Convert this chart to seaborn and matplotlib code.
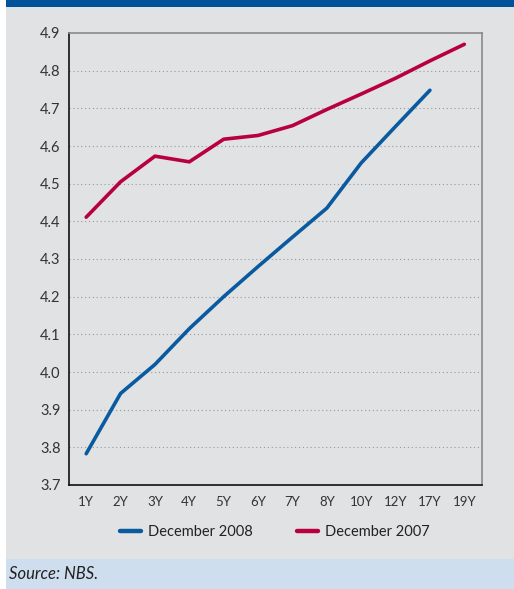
import pandas as pd
import numpy as np
import matplotlib.pyplot as plt
import seaborn as sns
from matplotlib.patches import Rectangle
from matplotlib.ticker import FixedLocator, NullFormatter

# Data (yield curves, %)
tenors = ["1Y", "2Y", "3Y", "4Y", "5Y", "6Y", "7Y", "8Y", "10Y", "12Y", "17Y", "19Y"]
dec_2008 = [3.783, 3.943, 4.020, 4.115, 4.200, 4.280, 4.358, 4.435, 4.555, 4.652, 4.748, np.nan]
dec_2007 = [4.411, 4.505, 4.573, 4.558, 4.618, 4.628, 4.654, 4.697, 4.738, 4.780, 4.826, 4.870]
series_names = ["December 2008", "December 2007"]
colors = ["#0a5aa0", "#b8003f"]
yticks = [3.7, 3.8, 3.9, 4.0, 4.1, 4.2, 4.3, 4.4, 4.5, 4.6, 4.7, 4.8, 4.9]

df = pd.concat([
    pd.DataFrame({"tenor": tenors, "yield": dec_2008, "series": series_names[0]}),
    pd.DataFrame({"tenor": tenors, "yield": dec_2007, "series": series_names[1]}),
]).dropna()

sns.set_style("white")
plt.rcParams["font.family"] = ["Lato", "DejaVu Sans"]

W, H = 514, 589
fig = plt.figure(figsize=(W / 100, H / 100), dpi=100)
fig.patch.set_facecolor("white")

# panel backgrounds
fig.patches.append(Rectangle((6 / W, 0), 1, 1, transform=fig.transFigure,
                             facecolor="#e1e2e4", edgecolor="none", zorder=-3))
fig.patches.append(Rectangle((6 / W, 1 - 7 / H), 1, 7 / H, transform=fig.transFigure,
                             facecolor="#00529b", edgecolor="none", zorder=-2))
fig.patches.append(Rectangle((6 / W, 0), 1, 30 / H, transform=fig.transFigure,
                             facecolor="#cfdeee", edgecolor="none", zorder=-2))

ax = fig.add_axes([69 / W, 104 / H, 412.5 / W, 452 / H])
ax.set_facecolor("none")

sns.lineplot(data=df, x="tenor", y="yield", hue="series", palette=colors,
             hue_order=series_names, linewidth=2.6, ax=ax, legend=False, sort=False)

ax.set_xlim(-0.5, len(tenors) - 0.5)
ax.set_ylim(3.7, 4.9)
ax.set_yticks(yticks)
ax.set_yticklabels([f"{v:.1f}" for v in yticks])

# x: ticks at boundaries, labels at centers
ax.xaxis.set_major_locator(FixedLocator(np.arange(-0.5, len(tenors), 1.0)))
ax.xaxis.set_major_formatter(NullFormatter())
ax.xaxis.set_minor_locator(FixedLocator(np.arange(len(tenors))))
ax.set_xticks(np.arange(len(tenors)), tenors, minor=True)
ax.tick_params(axis="x", which="major", direction="out", length=4, width=1, color="#222222")
ax.tick_params(axis="x", which="minor", length=0, pad=8, labelsize=9.5, labelcolor="#333333")
ax.tick_params(axis="y", direction="out", length=4, width=1, color="#222222",
               labelsize=10.5, labelcolor="#333333", pad=2)
ax.set_xlabel("")
ax.set_ylabel("")

for v in yticks[1:-1]:
    ax.axhline(v, color="#999999", linestyle=(0, (1, 2.5)), linewidth=0.8, zorder=0)

ax.spines["left"].set_color("#111111")
ax.spines["bottom"].set_color("#111111")
ax.spines["top"].set_color("#8a8a8a")
ax.spines["right"].set_color("#8a8a8a")
for s in ax.spines.values():
    s.set_linewidth(1.2)
    s.set_visible(True)

handles = [plt.Line2D([], [], color=c, linewidth=3.2) for c in colors]
fig.legend(handles, series_names, loc="center", bbox_to_anchor=(275 / W, 1 - 532 / H),
           ncol=2, frameon=False, fontsize=10.5, handlelength=1.45, columnspacing=3.0,
           handletextpad=0.5, labelcolor="#222222")

fig.text(9 / W, 15 / H, "Source: NBS.", style="italic", fontsize=12, color="#222222",
         va="center", ha="left")

fig.savefig("out.png", dpi=100)
